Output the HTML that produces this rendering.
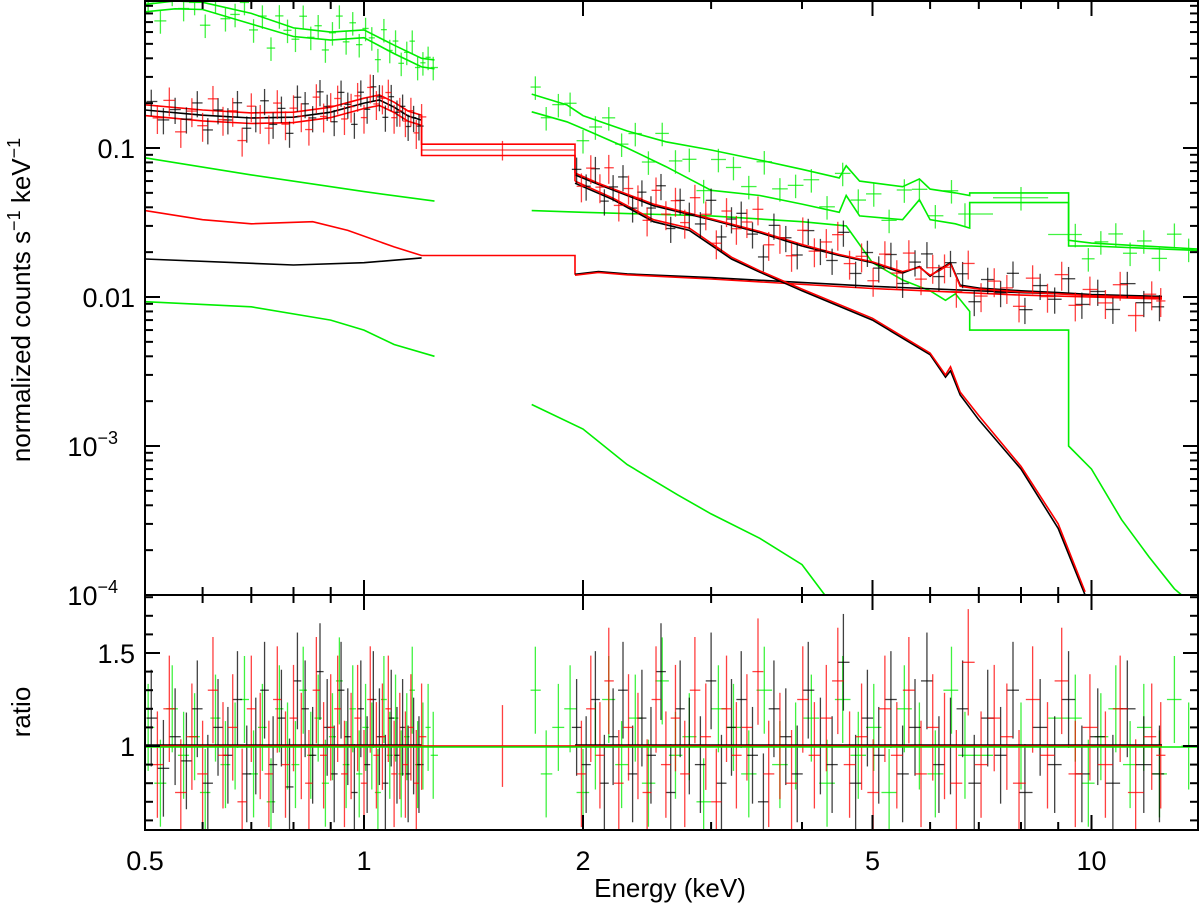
<!DOCTYPE html>
<html><head><meta charset="utf-8"><style>
html,body{margin:0;padding:0;background:#fff}
svg{display:block;font-family:"Liberation Sans",Arial,sans-serif}
</style></head><body>
<svg id="chart" width="1200" height="920" viewBox="0 0 1200 920">
<defs>
<clipPath id="cu"><rect x="145" y="0" width="1053" height="595"/></clipPath>
<clipPath id="cl"><rect x="145" y="595" width="1053" height="235"/></clipPath>
</defs>
<g id="upper" clip-path="url(#cu)"></g>
<g id="lower" clip-path="url(#cl)"></g>
<g id="axes"></g>
<text x="30" y="300" font-size="26" text-anchor="middle" transform="rotate(-90 30 300)">normalized counts s<tspan dy="-10" font-size="18">−1</tspan><tspan dy="10"> keV</tspan><tspan dy="-10" font-size="18">−1</tspan></text>
<text x="30" y="712" font-size="26" text-anchor="middle" transform="rotate(-90 30 712)">ratio</text>
<text x="670" y="897" font-size="26" text-anchor="middle">Energy (keV)</text>
</svg>
<script>
// ---- model curves (energy keV, counts) ----
const gHiE1=[0.5,0.55,0.6,0.7,0.8,0.9,1.0,1.1,1.2,1.25];
const gHiU1=[0.92,0.97,0.95,0.80,0.64,0.60,0.62,0.49,0.40,0.39];
const gHiL1=[0.82,0.86,0.85,0.68,0.56,0.53,0.55,0.43,0.35,0.34];
const kTotE1=[0.5,0.6,0.7,0.8,0.9,1.0,1.05,1.1,1.15,1.2];
const kTotV1=[0.18,0.166,0.159,0.161,0.174,0.2,0.21,0.188,0.164,0.154];
const rTotE1=[0.5,0.6,0.7,0.8,0.9,1.0,1.05,1.1,1.15,1.2,1.2,1.95,1.95];
const rTotU1=[0.195,0.18,0.172,0.174,0.188,0.216,0.227,0.203,0.177,0.166,0.106,0.106,0.068];
const rTotL1=[0.165,0.152,0.146,0.148,0.16,0.184,0.193,0.173,0.151,0.142,0.089,0.089,0.060];
const kTotE2=[1.95,2.1,2.3,2.5,3,3.5,4,4.5,5,5.5,5.8,6,6.2,6.4,6.6,7,8,9,10,12.5];
const kTotV2=[0.066,0.057,0.048,0.041,0.033,0.027,0.022,0.019,0.017,0.0145,0.016,0.0138,0.0155,0.017,0.012,0.0115,0.011,0.0107,0.0104,0.0101];
const rTotV2=[0.068,0.058,0.049,0.042,0.0335,0.0275,0.0225,0.0193,0.0172,0.0148,0.0158,0.014,0.0152,0.0168,0.0118,0.0113,0.0108,0.0105,0.0102,0.0099];
const hardE=[1.95,2.2,2.5,2.8,3.2,3.5,4,5,6,6.3,6.4,6.6,7,8,9,9.8];
const hardK=[0.058,0.045,0.032,0.028,0.018,0.0147,0.011,0.007,0.0041,0.0029,0.0032,0.0022,0.0015,0.0007,0.00028,0.0001];
const hardR=[0.06,0.046,0.033,0.029,0.0185,0.015,0.0113,0.0072,0.0042,0.003,0.0034,0.0023,0.0016,0.00073,0.0003,0.000105];
const plE=[1.95,2.1,2.3,3,5,8,12.5];
const plK=[0.0142,0.0148,0.0143,0.0135,0.0118,0.0107,0.0100];
const plR=[0.0140,0.0146,0.0141,0.0132,0.0114,0.0103,0.0097];
const rCompE1=[0.5,0.6,0.7,0.85,0.95,1.1,1.2,1.95,1.95];
const rCompV1=[0.038,0.033,0.031,0.032,0.028,0.0217,0.019,0.019,0.0141];
const kCompE1=[0.5,0.8,1.0,1.2];
const kCompV1=[0.018,0.0164,0.017,0.0183];
const gCompE1=[0.5,0.7,1.0,1.25];
const gCompV1=[0.086,0.066,0.051,0.044];
const gLowE1=[0.5,0.7,0.9,1.0,1.1,1.25];
const gLowV1=[0.0093,0.0086,0.007,0.006,0.0048,0.004];
const gHiE2=[1.7,1.9,2.0,2.3,2.6,3,3.5,4,4.5,4.6,4.8,5.5,5.8,6,6.5,6.8,6.8,9.3,9.3,10,14];
const gHiU2=[0.23,0.195,0.165,0.13,0.11,0.097,0.083,0.072,0.063,0.076,0.06,0.055,0.062,0.053,0.05,0.048,0.05,0.05,0.024,0.023,0.021];
const gHiL2=[0.175,0.15,0.135,0.1,0.075,0.052,0.048,0.042,0.037,0.048,0.035,0.033,0.045,0.033,0.031,0.029,0.043,0.043,0.022,0.022,0.0205];
const gCompE2=[1.7,2,3,4,4.6,5,5.5,6,6.3,6.5,6.8,6.8,9.3,9.3,10,11,12,13,13.3];
const gCompV2=[0.038,0.037,0.035,0.032,0.03,0.017,0.013,0.011,0.0095,0.0105,0.008,0.006,0.006,0.001,0.0007,0.00032,0.00018,0.00011,0.0001];
const gLowE2=[1.7,2,2.3,2.7,3,3.5,4,4.3];
const gLowV2=[0.0019,0.0013,0.00075,0.00047,0.00035,0.00024,0.00016,0.0001];
// ---- data: energies and data/model ratios ----
const kE1=[0.51,0.53,0.55,0.57,0.59,0.61,0.63,0.65,0.67,0.69,0.71,0.73,0.75,0.77,0.79,0.81,0.83,0.85,0.87,0.89,0.91,0.93,0.95,0.97,0.99,1.01,1.03,1.05,1.07,1.09,1.11,1.13,1.15,1.17,1.19];
const kR1=[1.15,0.88,1.05,0.92,1.2,0.8,1.1,0.95,1.25,0.85,1.0,1.3,0.9,1.15,0.78,1.35,1.2,0.95,1.4,1.1,0.85,1.3,1.05,0.75,1.2,0.9,1.25,1.05,0.8,1.15,0.95,1.1,0.85,1.0,0.9];
const rE1=[0.52,0.54,0.56,0.58,0.6,0.62,0.64,0.66,0.68,0.7,0.72,0.74,0.76,0.78,0.8,0.82,0.84,0.86,0.88,0.9,0.92,0.94,0.96,0.98,1.0,1.02,1.04,1.06,1.08,1.1,1.12,1.14,1.16,1.18,1.2];
const rR1=[0.9,1.2,0.75,1.05,0.85,1.3,0.95,1.1,0.7,1.2,1.0,0.85,1.25,0.9,1.15,1.0,0.8,1.3,0.95,1.1,1.2,0.85,1.0,1.15,0.8,1.25,0.95,1.05,1.2,0.85,1.0,0.9,1.1,0.8,1.05];
const gE1=[0.505,0.525,0.545,0.565,0.585,0.605,0.625,0.645,0.665,0.685,0.705,0.725,0.745,0.765,0.785,0.805,0.825,0.845,0.865,0.885,0.905,0.925,0.945,0.965,0.985,1.005,1.025,1.045,1.065,1.085,1.105,1.125,1.145,1.165,1.185,1.205,1.225,1.245];
const gR1=[1.1,0.8,1.2,0.95,1.05,0.75,1.15,0.9,1.0,1.25,0.85,1.1,0.7,1.2,1.0,0.9,1.3,0.95,1.15,0.8,1.05,1.35,0.9,1.2,0.85,1.1,1.0,0.75,1.25,0.95,1.15,0.85,1.05,1.3,0.9,1.0,1.1,0.95];
const kE2=[1.96,2.02,2.08,2.14,2.2,2.27,2.34,2.41,2.48,2.56,2.64,2.72,2.8,2.9,3.0,3.1,3.2,3.3,3.42,3.54,3.66,3.8,3.94,4.08,4.24,4.4,4.56,4.74,4.92,5.1,5.3,5.5,5.72,5.94,6.17,6.4,6.65,6.9,7.2,7.5,7.8,8.1,8.5,8.9,9.3,9.7,10.2,10.7,11.2,11.8,12.4];
const kR2=[1.1,0.9,1.25,0.8,1.05,1.3,0.85,1.15,0.95,1.4,0.75,1.2,1.0,0.9,1.35,0.8,1.1,1.25,0.95,0.7,1.2,1.05,0.85,1.3,1.0,0.9,1.45,0.8,1.15,0.95,1.25,0.85,1.1,1.35,0.9,1.0,1.2,0.8,1.15,0.95,1.3,0.75,1.1,0.9,1.25,0.85,1.05,0.8,1.2,0.9,0.85];
const rE2=[1.99,2.05,2.11,2.17,2.24,2.31,2.38,2.45,2.52,2.6,2.68,2.76,2.85,2.95,3.05,3.15,3.25,3.36,3.48,3.6,3.73,3.87,4.01,4.16,4.32,4.48,4.65,4.83,5.01,5.2,5.4,5.61,5.83,6.05,6.28,6.52,6.77,7.05,7.35,7.65,7.95,8.3,8.7,9.1,9.5,9.95,10.45,10.95,11.5,12.1,12.45];
const rR2=[0.85,1.2,0.95,1.35,0.8,1.1,1.0,0.75,1.25,0.9,1.15,0.85,1.3,1.05,0.7,1.2,0.95,1.1,1.4,0.85,1.0,0.8,1.25,0.95,1.15,1.35,0.9,1.05,0.75,1.2,0.95,1.3,0.85,1.1,1.0,0.8,1.45,0.9,1.15,1.05,0.8,1.25,0.95,1.35,0.85,1.1,0.9,1.2,0.75,1.05,0.95];
const gE2=[1.72,1.78,1.85,1.92,2.0,2.08,2.17,2.26,2.36,2.46,2.57,2.68,2.8,2.93,3.07,3.22,3.38,3.55,3.73,3.92,4.12,4.33,4.55,4.78,5.02,5.27,5.53,5.8,6.1,6.42,6.7,8.0,9.5,9.9,10.3,10.8,11.3,11.8,12.4,13.0,13.6];
const gR2=[1.3,0.85,1.1,1.2,0.75,1.0,1.25,0.9,1.15,0.8,1.35,0.95,1.05,0.7,1.2,1.1,0.85,1.3,0.9,1.0,1.15,0.8,1.25,0.95,1.1,0.75,1.2,1.0,0.85,1.3,0.95,1.0,1.15,0.8,1.05,1.2,0.9,1.1,0.85,1.25,1.0];
const relErr=[0.2,0.22,0.18]; // black, red, green fractional errors
const midE=[1.55], midR=[1.0], midErr=[0.22];

const NS='http://www.w3.org/2000/svg';
const fx=E=>364+727.5*Math.log10(E);
const fy=v=>148-149*Math.log10(v/0.1);
const fr=r=>746-186*(r-1);
const up=document.getElementById('upper'), lo=document.getElementById('lower'), ax=document.getElementById('axes');
const GREEN='#00ee00', RED='#ff0000', BLACK='#000000';

function line(par,x1,y1,x2,y2,col,w,op){
  const l=document.createElementNS(NS,'line');
  l.setAttribute('x1',x1);l.setAttribute('y1',y1);l.setAttribute('x2',x2);l.setAttribute('y2',y2);
  l.setAttribute('stroke',col);l.setAttribute('stroke-width',w||1.5);
  if(op)l.setAttribute('stroke-opacity',op);
  par.appendChild(l);return l;
}
function model(E,V,col,name){
  const p=document.createElementNS(NS,'polyline');
  p.setAttribute('points',E.map((e,i)=>fx(e).toFixed(1)+','+fy(V[i]).toFixed(1)).join(' '));
  p.setAttribute('fill','none');p.setAttribute('stroke',col);p.setAttribute('stroke-width','1.6');
  
  
  up.appendChild(p);
}
function interp(E,V,e){
  if(e<=E[0])return V[0];
  for(let i=1;i<E.length;i++){ if(e<=E[i]){ if(E[i]===E[i-1])return V[i];
    const t=(Math.log(e)-Math.log(E[i-1]))/(Math.log(E[i])-Math.log(E[i-1]));
    return Math.exp(Math.log(V[i-1])+t*(Math.log(V[i])-Math.log(V[i-1])));}}
  return V[V.length-1];
}
model(gHiE1,gHiU1,GREEN,'green-model-upper');model(gHiE1,gHiL1,GREEN,'green-model-lower');
model(gHiE2,gHiU2,GREEN,'green-model-upper-hard');model(gHiE2,gHiL2,GREEN,'green-model-lower-hard');
model(gCompE1,gCompV1,GREEN,'green-component');model(gCompE2,gCompV2,GREEN,'green-component-hard');
model(gLowE1,gLowV1,GREEN,'green-low-component');model(gLowE2,gLowV2,GREEN,'green-low-component-hard');
model(kCompE1,kCompV1,BLACK,'black-component');
model(rCompE1,rCompV1,RED,'red-component');
model(plE,plK,BLACK,'black-powerlaw');model(plE,plR,RED,'red-powerlaw');
model(hardE,hardK,BLACK,'black-thermal');model(hardE,hardR,RED,'red-thermal');
model(kTotE1,kTotV1,BLACK,'black-model');model(kTotE2,kTotV2,BLACK,'black-model-hard');
model(rTotE1,rTotU1,RED,'red-model-upper');model(rTotE1,rTotL1,RED,'red-model-lower');
model(kTotE2,rTotV2,RED,'red-model-hard');

function points(E,R,err,col,modelFn,name){
  const g=document.createElementNS(NS,'g');
  
  
  const g2=document.createElementNS(NS,'g');
  
  
  E.forEach((e,i)=>{
    const lo_=i>0?Math.sqrt(E[i-1]*e):e*0.985, hi_=i<E.length-1?Math.sqrt(E[i+1]*e):e*1.015;
    const x=fx(e), xa=fx(lo_), xb=fx(hi_);
    const m=modelFn(e), v=m*R[i];
    line(g,xa,fy(v),xb,fy(v),col,1.3,0.75);
    line(g,x,fy(v*(1+err)),x,fy(Math.max(v*(1-err),1e-6)),col,1.3,0.75);
    line(g2,xa,fr(R[i]),xb,fr(R[i]),col,1.3,0.75);
    line(g2,x,fr(R[i]+err*1.3),x,fr(R[i]-err*1.3),col,1.3,0.75);
  });
  up.appendChild(g);lo.appendChild(g2);
}
const gMid=e=> e<1.5?Math.sqrt(interp(gHiE1,gHiU1,e)*interp(gHiE1,gHiL1,e)):Math.sqrt(interp(gHiE2,gHiU2,e)*interp(gHiE2,gHiL2,e));
const kMod=e=> e<1.5?interp(kTotE1,kTotV1,e):interp(kTotE2,kTotV2,e);
const rMod=e=> e<1.5?interp(kTotE1,kTotV1,e):(e<1.95?0.097:interp(kTotE2,rTotV2,e));
points(gE1,gR1,relErr[2],GREEN,gMid,'green-data-soft');
points(gE2,gR2,relErr[2],GREEN,gMid,'green-data-hard');
points(kE1,kR1,relErr[0],BLACK,kMod,'black-data-soft');
points(kE2,kR2,relErr[0],BLACK,kMod,'black-data-hard');
points(rE1,rR1,relErr[1],RED,rMod,'red-data-soft');
points(rE2,rR2,relErr[1],RED,rMod,'red-data-hard');
// single broad red bin
(function(){const e=midE[0],x=fx(e),v=rMod(e)*midR[0];
 line(up,fx(1.2),fy(v),fx(1.95),fy(v),RED,1.3,0.75);line(up,x,fy(v*1.15),x,fy(v*0.85),RED,1.3,0.75);
 line(lo,fx(1.2),fr(midR[0]),fx(1.95),fr(midR[0]),RED,1.3,0.75);line(lo,x,fr(midR[0]+midErr[0]),x,fr(midR[0]-midErr[0]),RED,1.3,0.75);})();
// ratio=1 model lines
line(lo,fx(0.5),fr(1)-1,fx(1.2),fr(1)-1,BLACK,1.5);line(lo,fx(1.95),fr(1)-1,fx(12.5),fr(1)-1,BLACK,1.5);
line(lo,fx(0.5),fr(1),fx(12.5),fr(1),RED,1.5);
line(lo,145,fr(1)+1,1198,fr(1)+1,GREEN,1.5);

// ---- axes ----
const frame=document.createElementNS(NS,'rect');
frame.setAttribute('x',145);frame.setAttribute('y',1);frame.setAttribute('width',1053);frame.setAttribute('height',829);
frame.setAttribute('fill','none');frame.setAttribute('stroke','#000');frame.setAttribute('stroke-width','2');


ax.appendChild(frame);
line(ax,145,595,1198,595,BLACK,2);
const yMajors=[0.1,0.01,0.001,0.0001];
const xMajors=[0.5,1,2,5,10];
const xMinors=[0.6,0.7,0.8,0.9,3,4,6,7,8,9];
const rMajors=[1,1.5];
const rMinors=[0.6,0.7,0.8,0.9,1.1,1.2,1.3,1.4,1.6,1.7,1.8];
for(let d=-4;d<=-1;d++){for(let k=1;k<10;k++){const v=k*Math.pow(10,d),y=fy(v);if(y<0||y>595)continue;
  const L=k===1?15:8;line(ax,145,y,145+L,y,BLACK,2);line(ax,1198,y,1198-L,y,BLACK,2);}}
[...xMajors,...xMinors].forEach(e=>{const x=fx(e),L=xMajors.includes(e)?15:8;
  line(ax,x,1,x,1+L,BLACK,2);line(ax,x,595,x,595-L,BLACK,2);line(ax,x,595,x,595+L,BLACK,2);line(ax,x,830,x,830-L,BLACK,2);});
[...rMajors,...rMinors].forEach(r=>{const y=fr(r),L=rMajors.includes(r)?15:8;line(ax,145,y,145+L,y,BLACK,2);line(ax,1198,y,1198-L,y,BLACK,2);});
function txt(x,y,s,anchor,name){const t=document.createElementNS(NS,'text');t.setAttribute('x',x);t.setAttribute('y',y);
  t.setAttribute('font-size','27');t.setAttribute('text-anchor',anchor);t.innerHTML=s;
  
  
  ax.appendChild(t);}
const yLabels=['0.1','0.01','10<tspan dy="-12" font-size="18">−3</tspan>','10<tspan dy="-12" font-size="18">−4</tspan>'];
yMajors.forEach((v,i)=>txt(i<2?135:118,fy(v)+10,yLabels[i],'end','y-tick-label'));
const rLabels=['1','1.5'];
rMajors.forEach((r,i)=>txt(135,fr(r)+10,rLabels[i],'end','ratio-tick-label'));
const xLabels=['0.5','1','2','5','10'];
xMajors.forEach((e,i)=>txt(fx(e),870,xLabels[i],'middle','x-tick-label'));
</script>
</body></html>
